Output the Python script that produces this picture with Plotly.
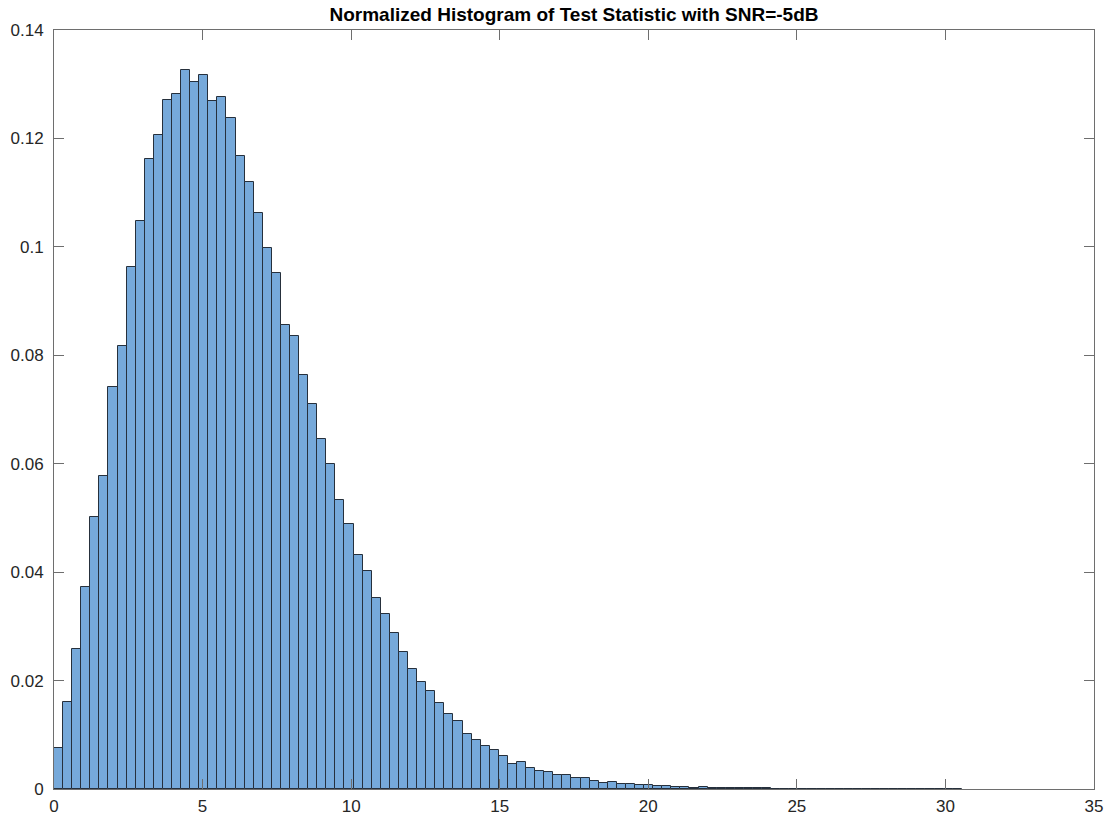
import plotly.graph_objects as go

# Normalized histogram (pdf) of the test statistic, 100 equal-width bins
bin_start = 0.0
bin_width = 0.3055

pdf_values = [
    0.0076, 0.0160, 0.0258, 0.0373, 0.0501, 0.0577, 0.0742, 0.0817, 0.0963, 0.1048,
    0.1162, 0.1207, 0.1271, 0.1282, 0.1327, 0.1305, 0.1317, 0.1269, 0.1277, 0.1237,
    0.1167, 0.1120, 0.1062, 0.0997, 0.0951, 0.0856, 0.0836, 0.0763, 0.0710, 0.0645,
    0.0599, 0.0533, 0.0488, 0.0431, 0.0402, 0.0353, 0.0322, 0.0287, 0.0253, 0.0222,
    0.0197, 0.0181, 0.0158, 0.0138, 0.0125, 0.0102, 0.0090, 0.0079, 0.0072, 0.0061,
    0.0046, 0.0050, 0.0039, 0.0034, 0.0031, 0.0025, 0.0026, 0.0020, 0.0021, 0.0015,
    0.0011, 0.0012, 0.0009, 0.0010, 0.0007, 0.0008, 0.0005, 0.0006, 0.0004, 0.0003,
    0.0001, 0.0003, 0.0002, 0.0002, 0.0001, 0.0001, 0.0001, 0.0001, 0.0001, 0.00006,
    0.00005, 0.00006, 0.00004, 0.00005, 0.00003, 0.00004, 0.00003, 0.00002, 0.00003, 0.00002,
    0.00002, 0.0, 0.00002, 0.0, 0.00001, 0.0, 0.00001, 0.0, 0.0, 0.00002,
]

x_ticks = [0, 5, 10, 15, 20, 25, 30, 35]
y_ticks = [0, 0.02, 0.04, 0.06, 0.08, 0.1, 0.12, 0.14]
y_tick_text = ["0", "0.02", "0.04", "0.06", "0.08", "0.1", "0.12", "0.14"]

title_text = "Normalized Histogram of Test Statistic with SNR=-5dB"

centers = [bin_start + (i + 0.5) * bin_width for i in range(len(pdf_values))]

fig = go.Figure(
    go.Bar(
        x=centers,
        y=pdf_values,
        width=bin_width,
        marker=dict(color="rgb(118,169,218)", line=dict(color="rgb(38,48,60)", width=1)),
        hoverinfo="skip",
    )
)

axis_common = dict(
    showline=True,
    linecolor="rgb(110,110,110)",
    linewidth=1,
    mirror="ticks",
    ticks="inside",
    ticklen=10,
    tickwidth=1,
    tickcolor="rgb(110,110,110)",
    showgrid=False,
    zeroline=False,
    automargin=False,
    tickfont=dict(family="Liberation Sans, Arial, sans-serif", size=17, color="#262626"),
)

fig.update_xaxes(range=[0, 35], tickvals=x_ticks, ticklabelstandoff=2, **axis_common)
fig.update_yaxes(range=[0, 0.14], tickvals=y_ticks, ticktext=y_tick_text,
                 ticklabelstandoff=6, **axis_common)

fig.update_layout(
    width=1112,
    height=817,
    margin=dict(l=54, r=18, t=30, b=28),
    paper_bgcolor="white",
    plot_bgcolor="white",
    bargap=0,
    showlegend=False,
    title=dict(
        text="<b>" + title_text + "</b>",
        x=(54 + 1094) / 2 / 1112,
        xanchor="center",
        y=1 - 14 / 817,
        yanchor="middle",
        font=dict(family="Liberation Sans, Arial, sans-serif", size=19, color="black"),
    ),
)

fig.write_html("out.html")
